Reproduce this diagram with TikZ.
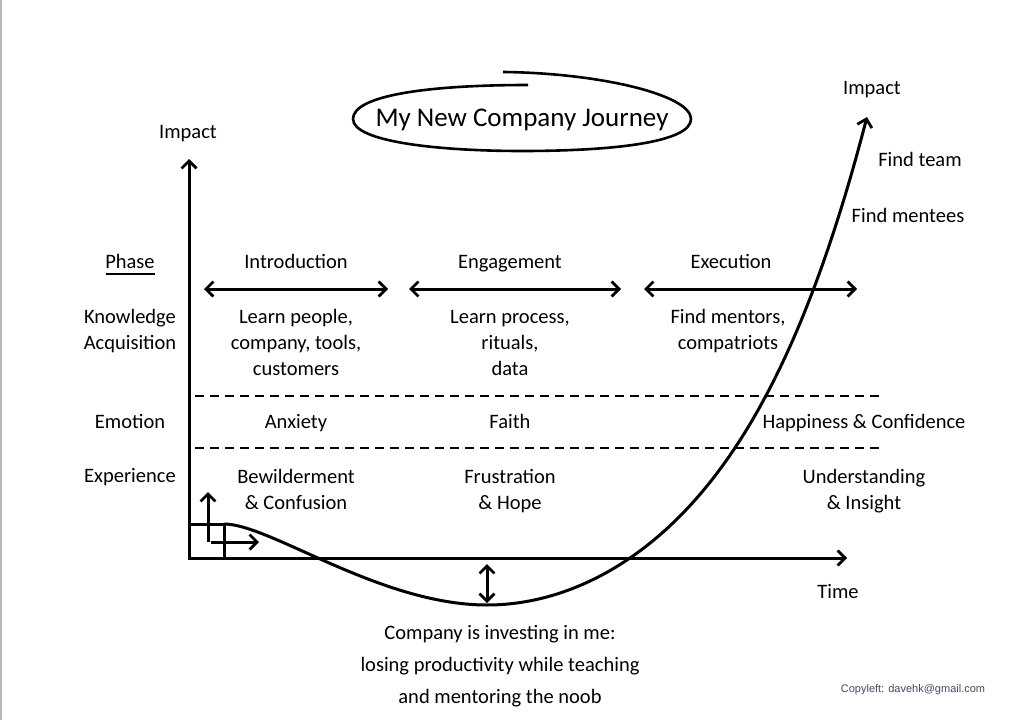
\documentclass[tikz,border=0pt]{standalone}
\usepackage{fontspec}
\setmainfont{Carlito}
\newfontfamily\cpfont{Liberation Sans}
\usetikzlibrary{arrows.meta}
\definecolor{cpcol}{HTML}{3E4A63}
\definecolor{edgegray}{HTML}{B8B8B8}
\newcommand\lst{\rule[-4pt]{0pt}{18pt}}
\begin{document}
\begin{tikzpicture}[x=1pt,y=-1pt,
  lbl/.style={font=\fontsize{20.5}{26}\selectfont, align=center, inner sep=0pt, text height=14pt, text depth=4pt},
  lblm/.style={font=\fontsize{20.5}{26}\selectfont, align=center, inner sep=0pt},
  ttl/.style={font=\fontsize{27}{32}\selectfont, inner sep=0pt},
  ln/.style={line width=3pt},
  barb/.tip={Straight Barb[length=7.5pt,width=15pt,line width=2.8pt]},
  tip/.style={-barb},
  dbl/.style={barb-barb},
  dsh/.style={line width=2.2pt, dash pattern=on 9pt off 6pt}
]
\useasboundingbox (0,0) rectangle (1013,720);
\draw[edgegray, line width=1.5pt] (1,0) -- (1,720);

% title
\node[ttl] (title) at (522,120) {My New Company Journey};
\draw[line width=2.6pt] (528,85) .. controls (430,85) and (353,95) .. (353,119)
  .. controls (353,142) and (440,151) .. (522,151)
  .. controls (615,151) and (691,142) .. (691,119)
  .. controls (691,95) and (600,73) .. (503,72);

% axes
\coordinate (O) at (189,558);
\coordinate (ytop) at (189,159);
\coordinate (xend) at (847,558);
\draw[ln, barb-barb, line join=miter] (ytop) -- (O) -- (xend);
\node[lbl] (impL) at (188,133) {Impact};
\node[lbl] (impR) at (872,89) {Impact};
\node[lbl] (time) at (838,593) {Time};

% phase header
\node[lbl] (phase) at (130,263) {Phase};
\coordinate (u1) at (106,274); \coordinate (u2) at (155,274);
\draw[line width=1.6pt] (u1) -- (u2);
\node[lbl] (intro) at (296,263) {Introduction};
\node[lbl] (eng) at (510,263) {Engagement};
\node[lbl] (exe) at (731,263) {Execution};

\coordinate (i1) at (204,289); \coordinate (i2) at (388,289);
\coordinate (e1) at (409,289); \coordinate (e2) at (621,289);
\coordinate (x1) at (644,289); \coordinate (x2) at (857,289);
\draw[ln,dbl] (i1) -- (i2);
\draw[ln,dbl] (e1) -- (e2);
\draw[ln,dbl] (x1) -- (x2);

% knowledge row
\node[lblm] (know) at (130,331) {\lst Knowledge\\Acquisition\lst};
\node[lblm] (k1) at (296,344) {\lst Learn people,\\company, tools,\\customers\lst};
\node[lblm] (k2) at (510,344) {\lst Learn process,\\rituals,\\data\lst};
\node[lblm] (k3) at (728,331) {\lst Find mentors,\\compatriots\lst};

% dashed separators
\coordinate (d1a) at (195,396); \coordinate (d1b) at (880,396);
\coordinate (d2a) at (195,448); \coordinate (d2b) at (880,448);
\draw[dsh] (d1a) -- (d1b);
\draw[dsh] (d2a) -- (d2b);

% emotion row
\node[lbl] (emo) at (130,423) {Emotion};
\node[lbl] (anx) at (296,423) {Anxiety};
\node[lbl] (faith) at (510,423) {Faith};
\node[lbl] (happy) at (864,423) {Happiness \& Confidence};

% experience row
\node[lbl] (exp) at (130,477) {Experience};
\node[lblm] (ex1) at (296,491) {\lst Bewilderment\\\& Confusion\lst};
\node[lblm] (ex2) at (510,491) {\lst Frustration\\\& Hope\lst};
\node[lblm] (ex3) at (864,491) {\lst Understanding\\\& Insight\lst};

% right side
\node[lbl] (team) at (920,161) {Find team};
\node[lbl] (mentees) at (908,217) {Find mentees};

% small box and arrows
\coordinate (b1) at (189,524); \coordinate (b2) at (224,524); \coordinate (b3) at (224,558);
\draw[ln, line join=miter] (b1) -- (b2) -- (b3);
\coordinate (ua) at (208,542); \coordinate (ub) at (208,492);
\draw[ln,tip] (ua) -- (ub);
\coordinate (ra) at (211,542); \coordinate (rb) at (259,542);
\draw[ln,tip] (ra) -- (rb);

% journey curve
\draw[ln,tip] (224,524) .. controls (270,524) and (380,605) .. (487,605)
  -- plot[domain=0:3.8, samples=70, variable=\u] ({487+100*\u},{605-22.375*\u*\u-0.2082*\u*\u*\u*\u*\u});

% investment arrow
\coordinate (v1) at (487,564); \coordinate (v2) at (487,603);
\draw[ln,dbl] (v1) -- (v2);
\node[font=\fontsize{20.5}{32}\selectfont, align=center, inner sep=0pt] (inv) at (500,666) {\lst Company is investing in me:\\losing productivity while teaching\\and mentoring the noob\lst};

% copyleft
\node[font=\cpfont\fontsize{11}{13}\selectfont, text=cpcol, inner sep=0pt] (cp) at (913,690) {Copyleft: davehk@gmail.com};
\end{tikzpicture}
\end{document}
